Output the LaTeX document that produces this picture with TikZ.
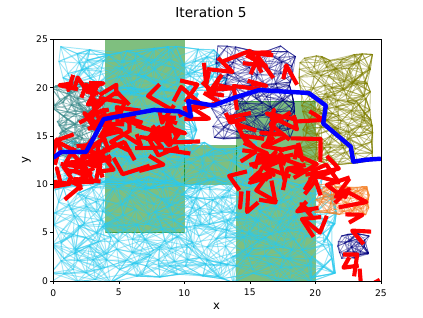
\documentclass[tikz,border=0pt]{standalone}
\usepackage{fontspec}
\setmainfont{DejaVu Sans}

\definecolor{skyline}{HTML}{2CCBEF}
\definecolor{tealmesh}{HTML}{3D8C8C}
\definecolor{navymesh}{HTML}{000080}
\definecolor{olivemesh}{HTML}{808000}
\definecolor{orangemesh}{HTML}{F5832A}
\definecolor{obstgreen}{HTML}{008000}

\tikzset{
  skymesh/.style={color=skyline,opacity=0.45,line width=0.9pt},
  tealedge/.style={color=tealmesh,opacity=0.5,line width=0.8pt},
  navyedge/.style={color=navymesh,opacity=0.4,line width=0.7pt},
  oliveedge/.style={color=olivemesh,opacity=0.45,line width=0.8pt},
  orangeedge/.style={color=orangemesh,opacity=0.45,line width=0.7pt},
  obstacle/.style={fill=obstgreen,fill opacity=0.5,draw=obstgreen,draw opacity=0.5,line width=0.5pt},
  redbar/.style={draw=red,line width=3.9pt,line cap=rect,line join=round},
  bluepath/.style={draw=blue,line width=4.2pt,line join=round},
  axisframe/.style={draw=black,line width=0.5pt},
  ticklabel/.style={font=\fontsize{8.7pt}{10pt}\selectfont,inner sep=0pt}
}

% jittered grid of nodes joined to their neighbours
\newcommand{\meshblock}[7]{%
  \foreach \i in {0,...,#4}{
    \foreach \j in {0,...,#5}{
      \coordinate (#1-\i-\j) at ({#2+(\i+0.5*rand)*#6},{#3+(\j+0.5*rand)*#6});
      \fill[#7] (#1-\i-\j) circle (0.6pt);
    }
  }
  \foreach \i in {0,...,#4}{
    \foreach \j in {0,...,#5}{
      \foreach \di/\dj/\p in {1/0/0.9,0/1/0.9,1/1/0.75,1/-1/0.75,2/0/0.45,0/2/0.45,
                              2/1/0.45,1/2/0.45,2/-1/0.45,1/-2/0.45,2/2/0.2,2/-2/0.2}{
        \pgfmathtruncatemacro\ia{min(\i+\di,#4)}
        \pgfmathtruncatemacro\jb{max(min(\j+\dj,#5),0)}
        \pgfmathtruncatemacro\keep{rnd<\p}
        \ifnum\keep=1 \draw[#7] (#1-\i-\j) -- (#1-\ia-\jb); \fi
      }
    }
  }
}

% scattered thick red tree edges
\newcommand{\redpatch}[6]{%
  \foreach \k in {1,...,#5}{
    \pgfmathsetmacro\rx{#1+#3*rnd}
    \pgfmathsetmacro\ry{#2+#4*rnd}
    \pgfmathsetmacro\aone{360*rnd}
    \pgfmathsetmacro\atwo{\aone+180+(rnd-0.5)*200}
    \pgfmathsetmacro\lone{(0.6+rnd)*#6}
    \pgfmathsetmacro\ltwo{(0.6+rnd)*#6}
    \draw[redbar] (\rx,\ry) -- ++(\aone:\lone) -- ++(\atwo:\ltwo);
  }
}

\begin{document}
\begin{tikzpicture}
  \fill[white] (0,0) rectangle (14.1,10.567);
  \useasboundingbox (0,0) rectangle (14.1,10.567);
  \pgfmathsetseed{5}

  \begin{scope}[shift={(1.777,1.2)},x=0.4367cm,y=0.3222cm]
    \begin{scope}
      \clip (0,0) rectangle (25,25);
      % obstacles
      \draw[obstacle] (4,5) rectangle (10,25);
      \draw[obstacle] (10,10) rectangle (14,14);
      \draw[obstacle] (14,0) rectangle (20,18.6);
      % roadmaps
      \meshblock{lo}{0.2}{0.3}{21}{10}{1.0}{skymesh}
      \meshblock{mid}{0.2}{10}{15}{4}{1.0}{skymesh}
      \meshblock{up}{0.8}{19.8}{12}{4}{1.0}{skymesh}
      \meshblock{cen}{3.6}{13}{7}{7}{1.0}{skymesh}
      \meshblock{tl}{0.2}{12.8}{6}{12}{0.62}{tealedge}
      \meshblock{nv}{12.4}{15}{7}{11}{0.82}{navyedge}
      \meshblock{ol}{19}{12.2}{7}{15}{0.73}{oliveedge}
      \meshblock{og}{20.2}{7}{8}{6}{0.48}{orangeedge}
      \meshblock{sn}{21.8}{2.6}{4}{4}{0.55}{navyedge}
      % tree edges
      \redpatch{0}{10.2}{3.5}{3.4}{24}{1.2}
      \redpatch{1.2}{19.2}{2.8}{1.6}{7}{1.1}
      \redpatch{3}{12.5}{7.5}{6.5}{46}{1.4}
      \redpatch{10.5}{19}{3}{3}{6}{1.5}
      \redpatch{14}{19.5}{5}{4.5}{7}{1.6}
      \redpatch{14}{9}{5}{8}{34}{1.4}
      \redpatch{19}{4.5}{4}{7}{15}{1.4}
      \redpatch{21}{0.5}{3}{3.5}{4}{1.4}
      % path found
      \draw[bluepath] (0,12.75) -- (0.6,13.35) -- (2.5,13.35) -- (3.85,16.75)
        -- (7.7,17.7) -- (9.6,17.55) -- (10.5,17.0) -- (10.3,18.6) -- (12.2,18.15)
        -- (13.9,19.0) -- (15.7,19.75) -- (19.5,19.45) -- (20.8,18.15) -- (20.6,16.3)
        -- (22.7,13.9) -- (22.9,12.35) -- (23.9,12.55) -- (25,12.65);
    \end{scope}

    \draw[axisframe] (0,0) rectangle (25,25);
    \foreach \t in {0,5,...,25}{
      \draw[axisframe] (\t,0) -- (\t,-0.36);
      \node[ticklabel] (xt\t) at (\t,-1.21) {\t};
      \draw[axisframe] (0,\t) -- (-0.27,\t);
      \node[ticklabel,anchor=east] (yt\t) at (-0.4,\t) {\t};
    }
  \end{scope}

  \node[font=\fontsize{13pt}{15pt}\selectfont] (title) at (7.033,10.167) {Iteration 5};
  \node[font=\fontsize{11pt}{13pt}\selectfont] (xlab) at (7.222,0.343) {x};
  \node[font=\fontsize{11pt}{13pt}\selectfont,rotate=90] (ylab) at (0.883,5.233) {y};
\end{tikzpicture}
\end{document}
